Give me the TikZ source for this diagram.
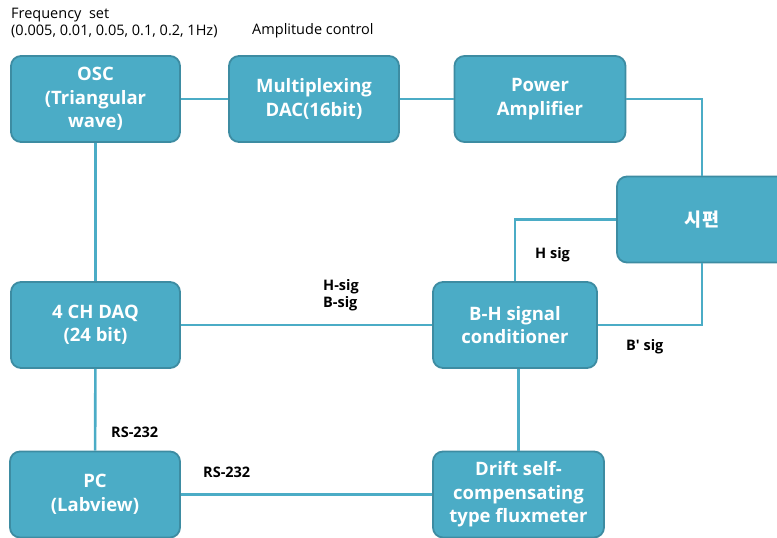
\documentclass[tikz,border=0pt]{standalone}
\usepackage{fontspec}
\setmainfont{Open Sans}
\newfontfamily\krfont{Noto Sans CJK KR}
\usepackage{tikz}
\definecolor{boxfill}{HTML}{4BACC6}
\definecolor{boxedge}{HTML}{3D8CA2}
\definecolor{wire}{HTML}{4BACC6}
\tikzset{
  blk/.style={draw=boxedge, line width=1.8pt, fill=boxfill, rounded corners=10pt,
    text=white, font=\bfseries\fontsize{18.5}{23.5}\selectfont, align=center,
    minimum height=86pt, inner sep=0pt},
  link/.style={draw=wire, line width=2.6pt},
  sig/.style={font=\bfseries\fontsize{14.5}{17}\selectfont, anchor=west, inner sep=0pt, align=left},
  note/.style={font=\fontsize{14.5}{17}\selectfont, anchor=west, inner sep=0pt, align=left}
}

\begin{document}
\begin{tikzpicture}[x=1pt,y=1pt,yscale=-1]
\useasboundingbox (0,0) rectangle (777,538);

% Top row
\node[blk, minimum width=169pt] (osc) at (95.5,99) {OSC\\(Triangular\\wave)};
\node[blk, minimum width=170pt] (dac) at (314,99) {Multiplexing\\DAC(16bit)};
\node[blk, minimum width=171pt] (amp) at (540,99) {Power\\Amplifier};
% Specimen
\node[blk, minimum width=170pt] (spec) at (702,219.5) {\krfont\bfseries 시편};
% Middle row
\node[blk, minimum width=169pt] (daq) at (95.5,325) {4 CH DAQ\\(24 bit)};
\node[blk, minimum width=164pt] (bh) at (515,325) {B-H signal\\conditioner};
% Bottom row
\node[blk, minimum width=170pt] (pc) at (95,494.5) {PC\\(Labview)};
\node[blk, minimum width=171pt] (drift) at (518.5,494.5) {Drift self-\\compensating\\type fluxmeter};

% Connections
\draw[link] (osc) -- (dac);
\draw[link] (dac) -- (amp);
\draw[link] (amp.east) -| (spec.north);
\draw[link] (spec.west) -| (bh.north);
\draw[link] (spec.south) |- (bh.east);
\draw[link] (daq) -- (bh);
\draw[link] (osc) -- (daq);
\draw[link] (daq) -- (pc);
\draw[link] (pc) -- (drift);
\draw[link] (drift.north) -- (drift.north |- bh.south);

% Labels
\node[note] (freqlbl) at (11,22.5) {Frequency~~set\\(0.005, 0.01, 0.05, 0.1, 0.2, 1Hz)};
\node[note] (amplbl) at (252,31) {Amplitude control};
\node[sig] (hblbl) at (323,295.5) {H-sig\\B-sig};
\node[sig] (hsig) at (535,255) {H sig};
\node[sig] (bsig) at (626,347) {B′ sig};
\node[sig] (rsone) at (111,432) {RS-232};
\node[sig] (rstwo) at (203,472) {RS-232};

\end{tikzpicture}
\end{document}
